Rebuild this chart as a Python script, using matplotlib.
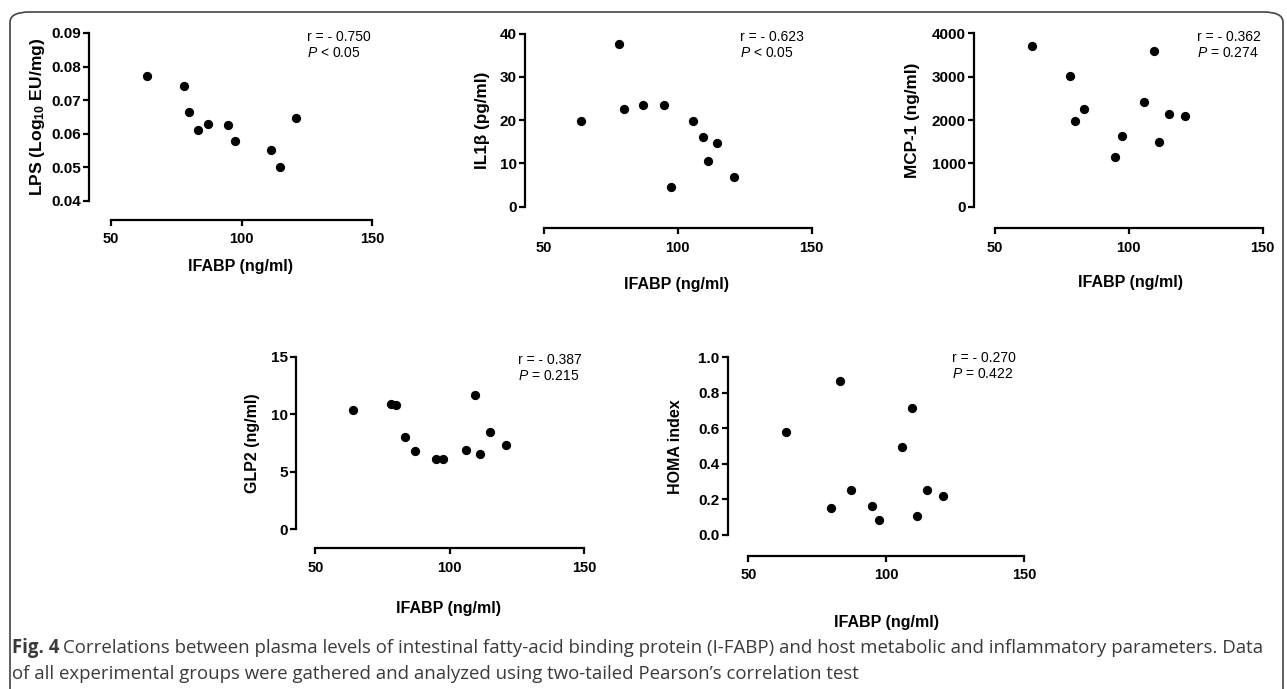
import numpy as np
import matplotlib
matplotlib.use('Agg')
import matplotlib.pyplot as plt
from matplotlib.patches import FancyBboxPatch

W, H = 1287, 689

# IFABP (ng/ml) on x, one list per panel
lps_x = [63.9, 77.8, 80.0, 83.3, 87.2, 94.9, 97.6, 111.2, 114.8, 120.7]
lps_y = [0.0771, 0.0742, 0.0665, 0.0610, 0.0629, 0.0625, 0.0579, 0.0551, 0.0502, 0.0648]

il1b_x = [63.8, 78.0, 80.0, 87.2, 95.0, 97.5, 105.8, 109.6, 111.2, 114.8, 120.9]
il1b_y = [19.9, 37.7, 22.7, 23.4, 23.4, 4.5, 19.9, 16.2, 10.5, 14.8, 6.8]

mcp_x = [63.8, 77.9, 80.0, 83.4, 95.0, 97.6, 105.8, 109.4, 111.3, 114.9, 121.0]
mcp_y = [3700, 3020, 1985, 2246, 1154, 1623, 2423, 3600, 1500, 2131, 2092]

glp2_x = [64.0, 78.0, 80.1, 83.5, 87.2, 94.9, 97.6, 106.0, 109.6, 111.3, 114.9, 120.8]
glp2_y = [10.36, 10.94, 10.82, 8.01, 6.79, 6.15, 6.15, 6.88, 11.72, 6.59, 8.44, 7.37]

homa_x = [63.8, 79.9, 83.4, 87.1, 95.0, 97.5, 105.7, 109.5, 111.2, 114.8, 120.7]
homa_y = [0.578, 0.154, 0.867, 0.255, 0.161, 0.083, 0.495, 0.713, 0.109, 0.253, 0.220]

ylabels = ['LPS (Log$_{\\mathrm{10}}$ EU/mg)', 'IL1\u03b2 (pg/ml)', 'MCP-1 (ng/ml)',
           'GLP2 (ng/ml)', 'HOMA index']
ylims = [(0.04, 0.09), (0, 40), (0, 4000), (0, 15), (0, 1.0)]
yticks = [[0.04, 0.05, 0.06, 0.07, 0.08, 0.09], [0, 10, 20, 30, 40],
          [0, 1000, 2000, 3000, 4000], [0, 5, 10, 15], [0.0, 0.2, 0.4, 0.6, 0.8, 1.0]]
ytickfmt = ['{:.2f}', '{:.0f}', '{:.0f}', '{:.0f}', '{:.1f}']
r_text = ['r = - 0.750', 'r = - 0.623', 'r = - 0.362', 'r = - 0.387', 'r = - 0.270']
p_text = ['< 0.05', '< 0.05', '= 0.274', '= 0.215', '= 0.422']
xs = [lps_x, il1b_x, mcp_x, glp2_x, homa_x]
ys = [lps_y, il1b_y, mcp_y, glp2_y, homa_y]

# layout in pixels: data-left, data-right, top, bottom, left spine x, bottom spine y
boxes = [(111, 372, 33, 201, 89, 220),
         (543.7, 811.7, 33.7, 206.7, 525, 228),
         (995, 1262.7, 33.3, 206.7, 974.3, 228.3),
         (315.3, 584, 357, 529.3, 296.3, 548.3),
         (748.3, 1024, 357.3, 535, 727.7, 555.7)]
ylab_pos = [(38, 117), (483, 120), (913, 120), (253, 443), (675, 447)]
ylab_size = [12.6, 12.3, 12.3, 11.5, 11.5]
xlab_pos = [(241, 267), (677, 285), (1130, 283), (448, 608), (887, 622)]
ann_pos = [(307, 37), (740, 37), (1197, 37), (518, 360), (952, 358)]

plt.rcParams['font.family'] = ['Liberation Sans', 'DejaVu Sans']
plt.rcParams['mathtext.fontset'] = 'custom'
plt.rcParams['mathtext.rm'] = 'Liberation Sans:bold'
plt.rcParams['mathtext.it'] = 'Liberation Sans:italic'

fig = plt.figure(figsize=(W / 100, H / 100), dpi=100)

def fx(px):
    return px / W

def fy(py):
    return 1 - py / H

for i in range(5):
    x0, x1, t, b, ls, bs = boxes[i]
    ax = fig.add_axes([fx(x0), fy(b), (x1 - x0) / W, (b - t) / H])
    ax.scatter(xs[i], ys[i], s=32, color='black', zorder=3, clip_on=False)
    ax.set_xlim(50, 150)
    ax.set_ylim(*ylims[i])
    ax.set_xticks([50, 100, 150])
    ax.set_yticks(yticks[i])
    ax.set_yticklabels([ytickfmt[i].format(v) for v in yticks[i]])
    for s in ['top', 'right']:
        ax.spines[s].set_visible(False)
    ax.spines['left'].set_position(('outward', (x0 - ls) * 0.72))
    ax.spines['bottom'].set_position(('outward', (bs - b) * 0.72))
    for s in ['left', 'bottom']:
        ax.spines[s].set_linewidth(1.6)
    ax.tick_params(width=1.6, length=4, pad=2)
    ax.tick_params(axis='x', pad=5, labelsize=10.5)
    ax.tick_params(axis='y', labelsize=11)
    for lab in ax.get_xticklabels() + ax.get_yticklabels():
        lab.set_fontweight('bold')
    ax.patch.set_visible(False)

    fig.text(fx(ylab_pos[i][0]), fy(ylab_pos[i][1]), ylabels[i], rotation=90,
             ha='center', va='center', fontsize=ylab_size[i], fontweight='bold')
    fig.text(fx(xlab_pos[i][0]), fy(xlab_pos[i][1]), 'IFABP (ng/ml)',
             ha='center', va='center', fontsize=11.5, fontweight='bold')
    ax_, ay_ = ann_pos[i]
    fig.text(fx(ax_), fy(ay_), r_text[i], ha='left', va='center', fontsize=10)
    fig.text(fx(ax_), fy(ay_ + 16), '$\\mathit{P}$ ' + p_text[i], ha='left',
             va='center', fontsize=10)

# frame around the figure
frame = FancyBboxPatch((fx(10), fy(700)), fx(1283) - fx(10), fy(12) - fy(700),
                       boxstyle='round,pad=0,rounding_size=0.015',
                       transform=fig.transFigure, fill=False,
                       edgecolor='#444444', linewidth=1.2)
fig.patches.append(frame)

cap_color = '#3a3a3a'
cap_font = ['Open Sans', 'DejaVu Sans']
cap_size = 13.4
t1 = fig.text(fx(12), fy(648), 'Fig. 4', ha='left', va='center', fontsize=cap_size,
              fontweight='bold', color=cap_color, family=cap_font)
fig.canvas.draw()
bb = t1.get_window_extent(renderer=fig.canvas.get_renderer())
fig.text(bb.x1 / W + 4 / W, fy(648),
         'Correlations between plasma levels of intestinal fatty-acid binding protein '
         '(I-FABP) and host metabolic and inflammatory parameters. Data',
         ha='left', va='center', fontsize=cap_size, color=cap_color, family=cap_font)
fig.text(fx(12), fy(674),
         'of all experimental groups were gathered and analyzed using two-tailed '
         'Pearson\u2019s correlation test',
         ha='left', va='center', fontsize=cap_size, color=cap_color, family=cap_font)

fig.savefig('out.png', dpi=100)
